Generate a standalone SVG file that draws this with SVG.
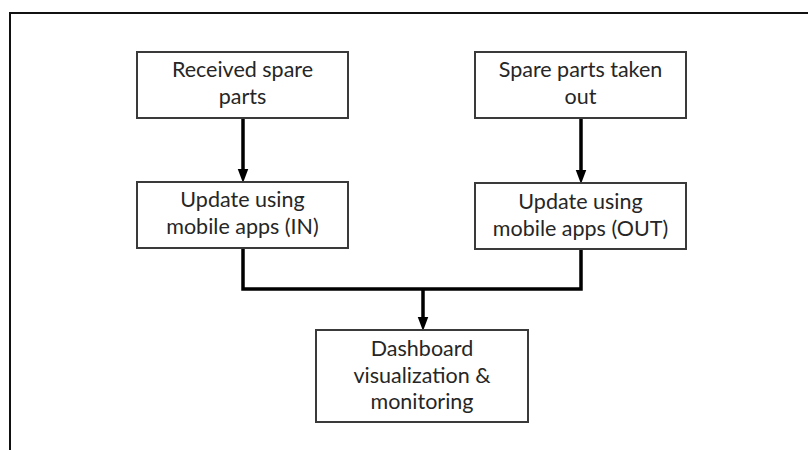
<svg xmlns="http://www.w3.org/2000/svg" width="808" height="450" viewBox="0 0 808 450">
<style>
.box{fill:#fff;stroke:#3a3a3a;stroke-width:2}
.t{font-family:Lato,"Open Sans",sans-serif;font-size:21.5px;fill:#262626;text-anchor:middle}
.c{fill:none;stroke:#000;stroke-width:3.5}
</style>
<defs>
<marker id="ah" markerWidth="4" markerHeight="4" refX="2" refY="2" orient="auto" markerUnits="strokeWidth" viewBox="0 0 4 4">
<path d="M0,0.5 L4,2 L0,3.5 z" fill="#000"/>
</marker>
</defs>
<rect width="808" height="450" fill="#fff"/>
<rect x="10" y="13" width="806" height="450" fill="none" stroke="#111" stroke-width="2"/>
<g id="connectors">
<line class="c" x1="243" y1="118" x2="243" y2="176" marker-end="url(#ah)"/>
<line class="c" x1="581" y1="118" x2="581" y2="177" marker-end="url(#ah)"/>
<polyline class="c" points="243,248 243,289 581,289 581,249" stroke-linejoin="miter"/>
<line class="c" x1="423" y1="289" x2="423" y2="324" marker-end="url(#ah)"/>
</g>
<g id="n1">
<rect class="box" x="137" y="52" width="211" height="66"/>
<text class="t" x="242.5" y="77">Received spare</text>
<text class="t" x="242.5" y="104">parts</text>
</g>
<g id="n2">
<rect class="box" x="475" y="52" width="211" height="66"/>
<text class="t" x="580.5" y="77">Spare parts taken</text>
<text class="t" x="580.5" y="104">out</text>
</g>
<g id="n3">
<rect class="box" x="137" y="182" width="211" height="66"/>
<text class="t" x="242.5" y="207">Update using</text>
<text class="t" x="242.5" y="234">mobile apps (IN)</text>
</g>
<g id="n4">
<rect class="box" x="475" y="183" width="211" height="66"/>
<text class="t" x="580.5" y="209">Update using</text>
<text class="t" x="580.5" y="236">mobile apps (OUT)</text>
</g>
<g id="n5">
<rect class="box" x="316" y="330" width="212" height="92"/>
<text class="t" x="422" y="356">Dashboard</text>
<text class="t" x="422" y="383">visualization &amp;</text>
<text class="t" x="422" y="409">monitoring</text>
</g>
</svg>
